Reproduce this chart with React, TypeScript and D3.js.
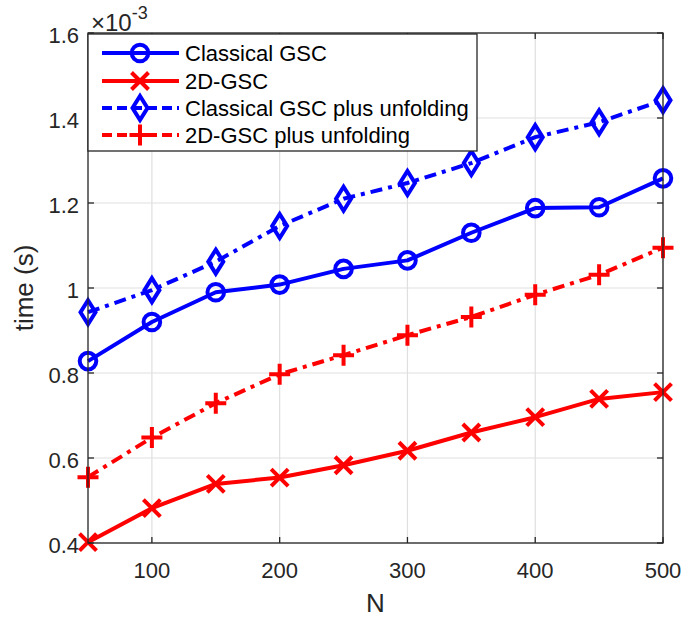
import React from "react";
import * as d3 from "d3";

const N = [50, 100, 150, 200, 250, 300, 350, 400, 450, 500];
const classical = [0.828, 0.92, 0.99, 1.008, 1.045, 1.065, 1.13, 1.188, 1.19, 1.258];
const gsc2d = [0.402, 0.482, 0.539, 0.554, 0.583, 0.617, 0.66, 0.696, 0.739, 0.755];
const classicalUnf = [0.943, 0.995, 1.062, 1.146, 1.21, 1.247, 1.294, 1.355, 1.39, 1.442];
const gsc2dUnf = [0.555, 0.648, 0.729, 0.797, 0.842, 0.889, 0.932, 0.984, 1.031, 1.095];
const xTicks = [100, 200, 300, 400, 500];
const yTicks = [0.4, 0.6, 0.8, 1, 1.2, 1.4, 1.6];
const seriesNames = ["Classical GSC", "2D-GSC", "Classical GSC plus unfolding", "2D-GSC plus unfolding"];

const W = 684, H = 617;
const left = 88, right = 663, top = 33, bottom = 543;
const FONT = "'Liberation Sans', Arial, Helvetica, sans-serif";
const AX = "#262626";
const LW = 4;

type Marker = "circle" | "x" | "diamond" | "plus";

function MarkerShape({ type, cx, cy, color }: { type: Marker; cx: number; cy: number; color: string }) {
  const sw = LW;
  if (type === "circle") return <circle cx={cx} cy={cy} r={8.3} fill="none" stroke={color} strokeWidth={sw} />;
  if (type === "x") {
    const s = 8.5;
    return <path d={`M${cx - s},${cy - s}L${cx + s},${cy + s}M${cx - s},${cy + s}L${cx + s},${cy - s}`} stroke={color} strokeWidth={sw} fill="none" />;
  }
  if (type === "diamond") {
    const h = 12, w = 7.5;
    return <path d={`M${cx},${cy - h}L${cx + w},${cy}L${cx},${cy + h}L${cx - w},${cy}Z`} stroke={color} strokeWidth={sw} fill="none" strokeLinejoin="miter" />;
  }
  const s = 10.5;
  return <path d={`M${cx - s},${cy}L${cx + s},${cy}M${cx},${cy - s}L${cx},${cy + s}`} stroke={color} strokeWidth={sw} fill="none" />;
}

export default function App() {
  const x = d3.scaleLinear().domain([50, 500]).range([left, right]);
  const y = d3.scaleLinear().domain([0.4, 1.6]).range([bottom, top]);
  const line = d3.line<[number, number]>().x(d => x(d[0])).y(d => y(d[1]));
  const series = [
    { name: seriesNames[0], data: classical, color: "#0000ff", marker: "circle" as Marker, dash: undefined },
    { name: seriesNames[1], data: gsc2d, color: "#ff0000", marker: "x" as Marker, dash: undefined },
    { name: seriesNames[2], data: classicalUnf, color: "#0000ff", marker: "diamond" as Marker, dash: "12,6,4,6" },
    { name: seriesNames[3], data: gsc2dUnf, color: "#ff0000", marker: "plus" as Marker, dash: "12,6,4,6" },
  ];
  const lx0 = 102, lx1 = 179, lmx = 140;
  const legY = [53, 81, 108, 135];
  return (
    <svg width={W} height={H} style={{ position: "absolute", left: 0, top: 0 }} fontFamily={FONT}>
      <rect x={0} y={0} width={W} height={H} fill="#fff" />
      {xTicks.map(t => (
        <line key={"gx" + t} x1={x(t)} x2={x(t)} y1={top} y2={bottom} stroke="#dfdfdf" strokeWidth={1.2} />
      ))}
      {yTicks.map(t => (
        <line key={"gy" + t} x1={left} x2={right} y1={y(t)} y2={y(t)} stroke="#dfdfdf" strokeWidth={1.2} />
      ))}
      {series.map(s => (
        <g key={s.name}>
          <path d={line(N.map((n, i) => [n, s.data[i]] as [number, number])) || ""} fill="none" stroke={s.color} strokeWidth={LW} strokeDasharray={s.dash} strokeLinejoin="round" />
          {N.map((n, i) => (
            <MarkerShape key={n} type={s.marker} cx={x(n)} cy={y(s.data[i])} color={s.color} />
          ))}
        </g>
      ))}
      <rect x={left} y={top} width={right - left} height={bottom - top} fill="none" stroke={AX} strokeWidth={1.3} />
      {xTicks.map(t => (
        <g key={"tx" + t}>
          <line x1={x(t)} x2={x(t)} y1={bottom} y2={bottom - 6} stroke={AX} strokeWidth={1.3} />
          <line x1={x(t)} x2={x(t)} y1={top} y2={top + 6} stroke={AX} strokeWidth={1.3} />
          <text x={x(t)} y={578} textAnchor="middle" fontSize={22} fill={AX}>{t}</text>
        </g>
      ))}
      {yTicks.map(t => (
        <g key={"ty" + t}>
          <line x1={left} x2={left + 6} y1={y(t)} y2={y(t)} stroke={AX} strokeWidth={1.3} />
          <line x1={right} x2={right - 6} y1={y(t)} y2={y(t)} stroke={AX} strokeWidth={1.3} />
          <text x={left - 9} y={y(t) + 10} textAnchor="end" fontSize={22} fill={AX}>{d3.format("~g")(t)}</text>
        </g>
      ))}
      <text x={91} y={31} fontSize={24} fill={AX}>×10<tspan dy={-12} fontSize={18}>-3</tspan></text>
      <text x={(left + right) / 2} y={612} textAnchor="middle" fontSize={26} fill={AX}>N</text>
      <text transform={`translate(33,${(top + bottom) / 2}) rotate(-90)`} textAnchor="middle" fontSize={26} fill={AX}>time (s)</text>
      <rect x={88} y={34} width={389} height={117} fill="#fff" stroke={AX} strokeWidth={1.3} />
      {series.map((s, i) => (
        <g key={"leg" + i}>
          <line x1={lx0} x2={lx1} y1={legY[i]} y2={legY[i]} stroke={s.color} strokeWidth={LW} strokeDasharray={s.dash ? "10,5" : undefined} />
          <MarkerShape type={s.marker} cx={lmx} cy={legY[i]} color={s.color} />
          <text x={185} y={legY[i] + 7.5} fontSize={22} fill="#000">{s.name}</text>
        </g>
      ))}
    </svg>
  );
}
